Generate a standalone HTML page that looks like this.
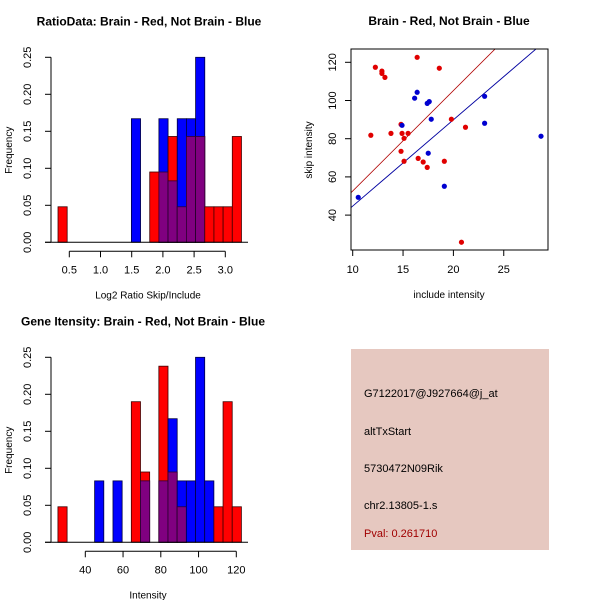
<!DOCTYPE html>
<html><head><meta charset="utf-8"><style>
body{margin:0;background:#fff}
svg{display:block;font-family:"Liberation Sans",sans-serif}
</style></head><body>
<svg id="s" width="600" height="600" viewBox="0 0 600 600">
<rect width="600" height="600" fill="#fff"/>
<g id="tl"></g>
<g id="bl"></g>
<g id="tr"></g>
<g>
<rect x="351" y="349" width="198" height="201" fill="#E6C8C0"/>
<text x="364" y="397" font-size="11">G7122017@J927664@j_at</text>
<text x="364" y="435" font-size="11">altTxStart</text>
<text x="364" y="472" font-size="11">5730472N09Rik</text>
<text x="364" y="509" font-size="11">chr2.13805-1.s</text>
<text x="364" y="537" font-size="11" fill="#A00000">Pval: 0.261710</text>
</g>
</svg>
<script>
// Top-left histogram data
const ratioBins0 = 0.319, ratioBinW = 0.147;
const ratioRed = [0.048,0,0,0,0,0,0,0,0,0,0.095,0.095,0.143,0.048,0.143,0.143,0.048,0.048,0.048,0.143];
const ratioBlue = [0,0,0,0,0,0,0,0,0.167,0,0,0.167,0.083,0.167,0.167,0.25,0,0,0,0];
const ratioXTicks = [0.5,1.0,1.5,2.0,2.5,3.0];
const freqTicks = [0,0.05,0.1,0.15,0.2,0.25];
// Bottom-left histogram data
const intBins0 = 25.5, intBinW = 4.86;
const intRed = [0.048,0,0,0,0,0,0,0,0.19,0.095,0,0.238,0.095,0.048,0,0,0,0.048,0.19,0.048];
const intBlue = [0,0,0,0,0.083,0,0.083,0,0,0.083,0,0.083,0.167,0.083,0.083,0.25,0.083,0,0,0];
const intXTicks = [40,60,80,100,120];
// Scatter data
const redX = [12.25,12.9,12.9,13.2,16.4,18.6,11.8,13.8,14.9,15.5,15.1,14.8,15.1,16.5,17.0,17.4,19.1,19.8,21.2,20.8,14.8];
const redY = [117.4,115.4,114.2,112.1,122.6,116.9,81.8,82.8,82.8,82.8,80.2,73.4,68.2,69.7,67.8,65.0,68.2,90.2,86.0,25.8,87.5];
const blueX = [10.55,16.4,16.15,17.4,17.6,17.8,14.9,17.5,19.1,23.1,23.1,28.7];
const blueY = [49.3,104.3,101.2,98.5,99.4,90.2,87.0,72.4,55.1,102.2,88.1,81.3];
const redSlope = 5.26, redIntercept = 0.0;
const blueSlope = 4.52, blueIntercept = -0.5;
const scXTicks = [10,15,20,25];
const scYTicks = [40,60,80,100,120];

const NS="http://www.w3.org/2000/svg";
function mk(p,t,a){const e=document.createElementNS(NS,t);for(const k in a)e.setAttribute(k,a[k]);p.appendChild(e);return e;}

function hist(g,o){
  const X=v=>o.x0px+(v-o.xv0)*o.xs, Y=v=>o.y0px-v*o.ys;
  const n=o.red.length;
  for(let i=0;i<n;i++){
    const l=X(o.b0+i*o.bw), r=X(o.b0+(i+1)*o.bw);
    const rv=o.red[i], bv=o.blue[i];
    if(rv>0){const e=mk(g,'rect',{x:l,y:Y(rv),width:r-l,height:Y(0)-Y(rv),fill:'#FF0000',stroke:'#400000','stroke-width':0.8});
      }
    if(bv>0){const e=mk(g,'rect',{x:l,y:Y(bv),width:r-l,height:Y(0)-Y(bv),fill:'#0000FF',stroke:'#000040','stroke-width':0.8});
      }
    const m=Math.min(rv,bv);
    if(m>0){const e=mk(g,'rect',{x:l,y:Y(m),width:r-l,height:Y(0)-Y(m),fill:'#800080',stroke:'#300030','stroke-width':0.8});
      }
  }
  mk(g,'line',{x1:45,x2:248,y1:Y(0),y2:Y(0),stroke:'#000'});
  const ya=mk(g,'g',{});
  
  mk(ya,'line',{x1:51,x2:51,y1:Y(0),y2:Y(0.25),stroke:'#000'});
  freqTicks.forEach(t=>{mk(ya,'line',{x1:45,x2:51,y1:Y(t),y2:Y(t),stroke:'#000'});
    const tx=mk(ya,'text',{x:31,y:Y(t),'font-size':11,'text-anchor':'middle',transform:`rotate(-90 31 ${Y(t)})`});tx.textContent=t.toFixed(2);
    });
  const yl=mk(g,'text',{x:12,y:o.y0px-92,'font-size':10,'text-anchor':'middle',transform:`rotate(-90 12 ${o.y0px-92})`});yl.textContent='Frequency';
  
  const xa=mk(g,'g',{});
  
  const ty=o.y0px+9;
  mk(xa,'line',{x1:X(o.ticks[0]),x2:X(o.ticks[o.ticks.length-1]),y1:ty,y2:ty,stroke:'#000'});
  o.ticks.forEach(t=>{mk(xa,'line',{x1:X(t),x2:X(t),y1:ty,y2:ty+6,stroke:'#000'});
    const tx=mk(xa,'text',{x:X(t),y:ty+22,'font-size':11,'text-anchor':'middle'});tx.textContent=o.fmt(t);
    });
  const xl=mk(g,'text',{x:148,y:o.y0px+56,'font-size':10,'text-anchor':'middle'});xl.textContent=o.xlab;
  
  const tt=mk(g,'text',{x:o.titleX,y:o.y0px-217,'font-size':12,'font-weight':'bold','text-anchor':'middle'});tt.textContent=o.title;
  
}
hist(document.getElementById('tl'),{red:ratioRed,blue:ratioBlue,b0:ratioBins0,bw:ratioBinW,x0px:69.3,xv0:0.5,xs:62.4,y0px:242.3,ys:740,
  ticks:ratioXTicks,fmt:t=>t.toFixed(1),xlab:'Log2 Ratio Skip/Include',title:'RatioData: Brain - Red, Not Brain - Blue',titleX:149});
hist(document.getElementById('bl'),{red:intRed,blue:intBlue,b0:intBins0,bw:intBinW,x0px:85.3,xv0:40,xs:1.8875,y0px:542.3,ys:740,
  ticks:intXTicks,fmt:t=>String(t),xlab:'Intensity',title:'Gene Itensity: Brain - Red, Not Brain - Blue',titleX:143});

(function(){
  const g=document.getElementById('tr');
  const X=v=>352.7+(v-10)*10.07, Y=v=>62.3+(120-v)*1.91;
  const cp=mk(g,'clipPath',{id:'cp'});mk(cp,'rect',{x:351,y:49,width:197,height:201});
  const lg=mk(g,'g',{'clip-path':'url(#cp)'});
  const xa=9.83, xb=29.5;
  const rl=mk(lg,'line',{x1:X(xa),y1:Y(redIntercept+redSlope*xa),x2:X(xb),y2:Y(redIntercept+redSlope*xb),stroke:'#B00000','stroke-width':0.8});
  
  const bl=mk(lg,'line',{x1:X(xa),y1:Y(blueIntercept+blueSlope*xa),x2:X(xb),y2:Y(blueIntercept+blueSlope*xb),stroke:'#0000A0','stroke-width':0.9});
  
  redX.forEach((x,i)=>{const c=mk(g,'circle',{cx:X(x),cy:Y(redY[i]),r:2.6,fill:'#E00000'});
    });
  blueX.forEach((x,i)=>{const c=mk(g,'circle',{cx:X(x),cy:Y(blueY[i]),r:2.6,fill:'#0000D0'});
    });
  const b=mk(g,'rect',{x:351,y:49,width:197,height:201,fill:'none',stroke:'#000'});
  
  scXTicks.forEach(t=>{mk(g,'line',{x1:X(t),x2:X(t),y1:250,y2:256,stroke:'#000'});
    const tx=mk(g,'text',{x:X(t),y:273,'font-size':11,'text-anchor':'middle'});tx.textContent=t;
    });
  scYTicks.forEach(t=>{mk(g,'line',{x1:345,x2:351,y1:Y(t),y2:Y(t),stroke:'#000'});
    const tx=mk(g,'text',{x:336,y:Y(t),'font-size':11,'text-anchor':'middle',transform:`rotate(-90 336 ${Y(t)})`});tx.textContent=t;
    });
  const xl=mk(g,'text',{x:449,y:298,'font-size':10,'text-anchor':'middle'});xl.textContent='include intensity';
  
  const yl=mk(g,'text',{x:312,y:150,'font-size':10,'text-anchor':'middle',transform:'rotate(-90 312 150)'});yl.textContent='skip intensity';
  
  const tt=mk(g,'text',{x:449,y:25,'font-size':12,'font-weight':'bold','text-anchor':'middle'});tt.textContent='Brain - Red, Not Brain - Blue';
  
})();
</script>
</body></html>
